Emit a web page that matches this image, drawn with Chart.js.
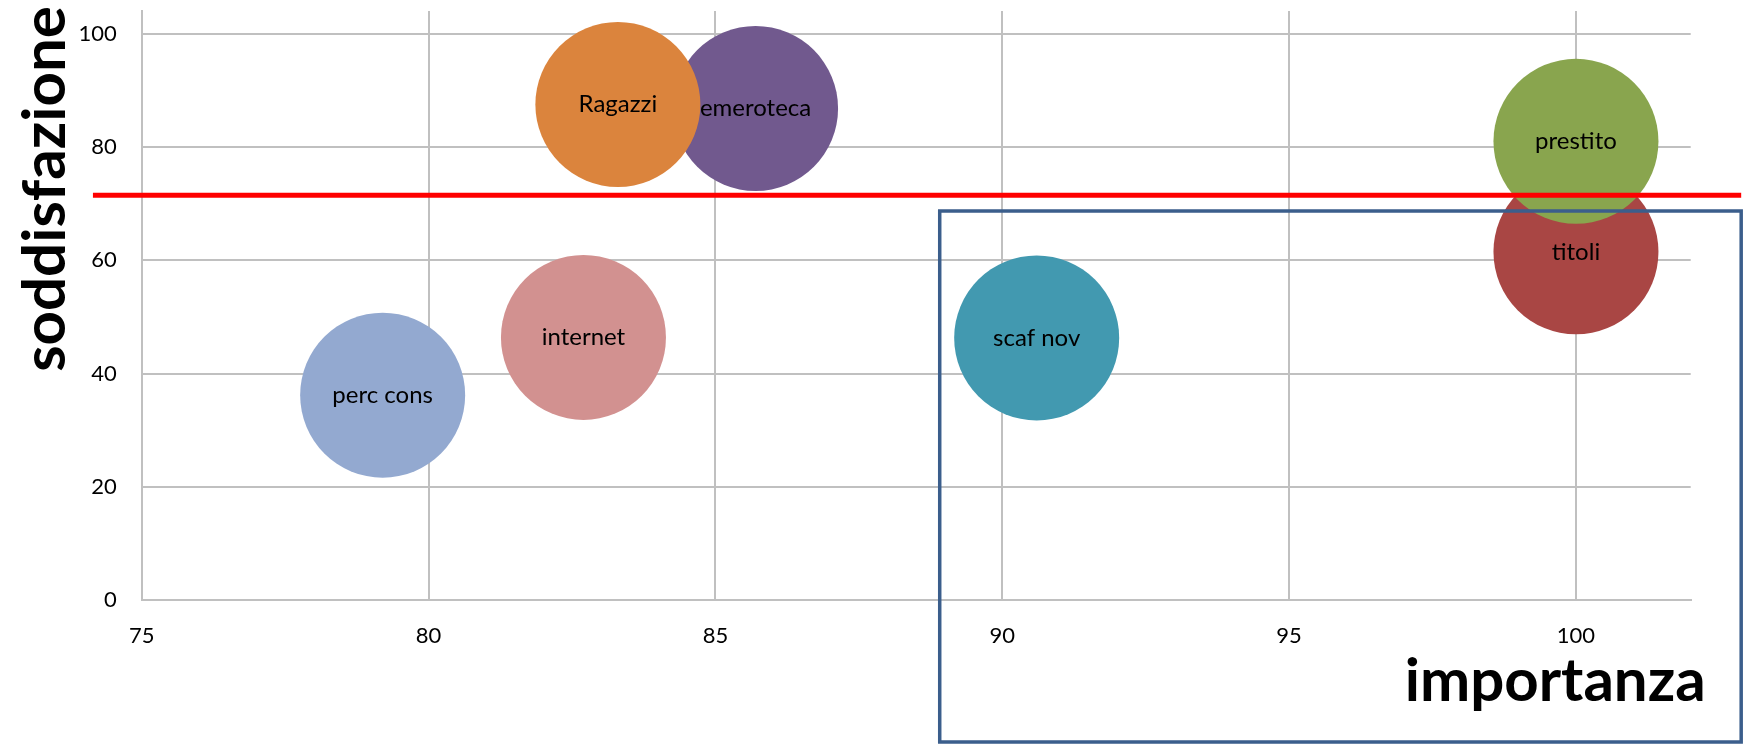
<!DOCTYPE html>
<html>
<head>
<meta charset="utf-8">
<script src="https://cdn.jsdelivr.net/npm/chart.js@4.4.1/dist/chart.umd.min.js"></script>
<style>
  html, body { margin: 0; padding: 0; background: #ffffff; }
  #wrap { width: 1750px; height: 745px; position: relative; }
</style>
</head>
<body>
<div id="wrap"><canvas id="bubble_graph"></canvas></div>
<script>
// servizi della biblioteca: importanza (x) e soddisfazione (y)
const servizi = ['perc cons', 'titoli', 'prestito', 'emeroteca', 'scaf nov', 'Ragazzi', 'internet'];
const importanza = [79.2, 100, 100, 85.7, 90.6, 83.3, 82.7];
const soddisfazione = [36.2, 61.5, 81.0, 86.8, 46.3, 87.5, 46.4];
const colori = ['#93a9d0', '#a94644', '#89a54e', '#71598e', '#4299b0', '#db843d', '#d29190'];

const xTicks = [75, 80, 85, 90, 95, 100];
const yTicks = [0, 20, 40, 60, 80, 100];

// soglia di soddisfazione (linea rossa) e area evidenziata (riquadro blu)
const sogliaY = [71.5, 71.5];
const sogliaX = [74.15, 102.88];
const areaX = [88.91, 102.88];
const areaY = [-25.0, 68.7];

const GRID = '#c0c0c0';

const bubblePoints = importanza.map((v, i) => ({x: v, y: soddisfazione[i]}));
const sogliaPoints = sogliaX.map((v, i) => ({x: v, y: sogliaY[i]}));
const areaPoints = [
    {x: areaX[0], y: areaY[0]},
    {x: areaX[0], y: areaY[1]},
    {x: areaX[1], y: areaY[1]},
    {x: areaX[1], y: areaY[0]},
    {x: areaX[0], y: areaY[0]},
];

const bubbleLabels = {
    id: 'bubbleLabels',
    afterDatasetsDraw(chart) {
        const ctx = chart.ctx;
        const meta = chart.getDatasetMeta(0);
        ctx.save();
        ctx.font = '24px Lato';
        ctx.fillStyle = '#000000';
        ctx.textAlign = 'center';
        ctx.textBaseline = 'middle';
        meta.data.forEach((el, i) => {
            ctx.fillText(servizi[i], el.x, el.y);
        });
        ctx.restore();
    }
};

const axisTitles = {
    id: 'axisTitles',
    afterDraw(chart) {
        const ctx = chart.ctx;
        const area = chart.chartArea;
        ctx.save();
        ctx.font = 'bold 60px Lato';
        ctx.fillStyle = '#000000';
        ctx.textBaseline = 'alphabetic';
        // asse x
        ctx.textAlign = 'right';
        ctx.fillText('importanza', area.right + 15, area.bottom + 101);
        // asse y
        ctx.translate(area.left - 77, area.top + 178);
        ctx.rotate(-Math.PI / 2);
        ctx.textAlign = 'center';
        ctx.fillText('soddisfazione', 0, 0);
        ctx.restore();
    }
};

const config = {
    type: 'bubble',
    data: {
        datasets: [{
            label: 'servizi',
            data: bubblePoints,
            backgroundColor: colori,
            borderWidth: 0,
            radius: 82.5,
            order: 2,
        }, {
            type: 'line',
            label: 'soglia',
            data: sogliaPoints,
            borderColor: '#ff0000',
            borderWidth: 5,
            pointRadius: 0,
            tension: 0,
            clip: false,
            order: 0,
        }, {
            type: 'line',
            label: 'area',
            data: areaPoints,
            borderColor: '#3b5e8c',
            borderWidth: 3.5,
            borderJoinStyle: 'miter',
            borderCapStyle: 'square',
            pointRadius: 0,
            tension: 0,
            clip: false,
            order: 1,
        }]
    },
    options: {
        responsive: true,
        maintainAspectRatio: false,
        animation: false,
        events: [],
        layout: {
            autoPadding: false,
            padding: {left: 0, top: 11, right: 59.3, bottom: 0}
        },
        plugins: {
            legend: {display: false},
            title: {display: false},
            tooltip: {enabled: false},
        },
        scales: {
            x: {
                type: 'linear',
                min: 75,
                max: 102,
                afterBuildTicks: (scale) => { scale.ticks = xTicks.map(v => ({value: v})); },
                afterFit: (scale) => {
                    scale.height = 144.7;
                    scale.paddingLeft = 0;
                    scale.paddingRight = 0;
                },
                ticks: {
                    color: '#000000',
                    font: {size: 22, family: 'Lato'},
                    padding: 22,
                    maxRotation: 0,
                },
                grid: {color: GRID, lineWidth: 2, drawTicks: false},
                border: {display: true, color: GRID, width: 2},
            },
            y: {
                type: 'linear',
                min: 0,
                max: 104,
                afterBuildTicks: (scale) => { scale.ticks = yTicks.map(v => ({value: v})); },
                afterFit: (scale) => {
                    scale.width = 141.7;
                    scale.paddingTop = 0;
                    scale.paddingBottom = 0;
                },
                ticks: {
                    color: '#000000',
                    font: {size: 22, family: 'Lato'},
                    padding: 25,
                },
                grid: {color: GRID, lineWidth: 2, drawTicks: false},
                border: {display: true, color: GRID, width: 2},
            }
        }
    },
    plugins: [bubbleLabels, axisTitles]
};

window.addEventListener('load', function () {
    new Chart(document.getElementById('bubble_graph'), config);
});
</script>
</body>
</html>
